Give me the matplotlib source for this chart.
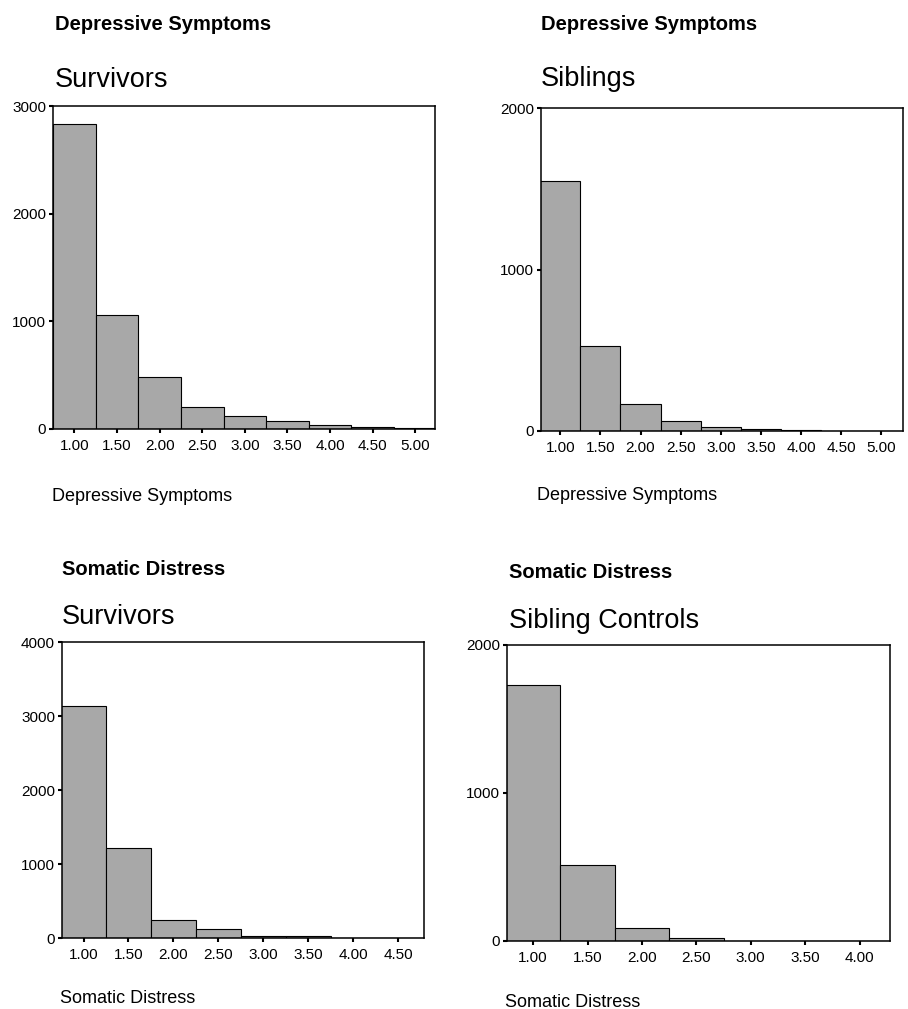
## four SPSS-style histograms (depressive symptoms / somatic distress)

import matplotlib
matplotlib.use('Agg')
import matplotlib.pyplot as plt

W, H = 908, 1009
FONT = ['Liberation Sans', 'DejaVu Sans']
BAR_COLOR = '#a8a8a8'

plt.rcParams['font.family'] = FONT

# bin centres and counts
dep_centers = [1.00, 1.50, 2.00, 2.50, 3.00, 3.50, 4.00, 4.50, 5.00]
dep_survivors = [2833, 1058, 479, 207, 124, 74, 37, 22, 8]
dep_siblings = [1551, 527, 165, 62, 25, 10, 5, 3, 1]

som_surv_centers = [1.00, 1.50, 2.00, 2.50, 3.00, 3.50, 4.00, 4.50]
som_survivors = [3135, 1221, 239, 126, 27, 22, 3, 1]

som_sib_centers = [1.00, 1.50, 2.00, 2.50, 3.00, 3.50, 4.00]
som_siblings = [1731, 516, 90, 20, 3, 1, 1]

dep_ticks = ['1.00', '1.50', '2.00', '2.50', '3.00', '3.50', '4.00', '4.50', '5.00']
som_surv_ticks = ['1.00', '1.50', '2.00', '2.50', '3.00', '3.50', '4.00', '4.50']
som_sib_ticks = ['1.00', '1.50', '2.00', '2.50', '3.00', '3.50', '4.00']

fig = plt.figure(figsize=(W / 100, H / 100), dpi=100)


# left, right, top, bottom given in pixels
def _add_axes(left, right, top, bottom):
	return fig.add_axes([left / W, 1 - bottom / H, (right - left) / W, (bottom - top) / H])


def _text(x, y, s, size, weight='normal'):
	fig.text(x / W, 1 - y / H, s, fontsize=size, fontweight=weight, va='baseline', ha='left')


def _histogram(ax, centers, counts, ticklabels, xlim, ymax):
	ax.bar(centers, counts, width=0.5, color=BAR_COLOR, edgecolor='black', linewidth=0.8)
	ax.set_xlim(xlim)
	ax.set_ylim(0, ymax)
	ax.set_yticks(list(range(0, ymax + 1, 1000)))
	ax.set_xticks(centers)
	ax.set_xticklabels(ticklabels)
	for s in ax.spines.values():
		s.set_linewidth(1.1)
	ax.tick_params(axis='both', direction='out', length=3, width=1.5, labelsize=11, pad=4)
	ax.tick_params(axis='y', pad=2)


# panel 1: depressive symptoms, survivors
ax1 = _add_axes(53, 435, 106, 429)
_histogram(ax1, dep_centers, dep_survivors, dep_ticks, (0.75, 5.23), 3000)
_text(55, 30, 'Depressive Symptoms', 14.5, 'bold')
_text(55, 87, 'Survivors', 19.5)
_text(52, 501, 'Depressive Symptoms', 13)

# panel 2: depressive symptoms, siblings
ax2 = _add_axes(541, 903, 108, 431)
_histogram(ax2, dep_centers, dep_siblings, dep_ticks, (0.76, 5.27), 2000)
_text(541, 30, 'Depressive Symptoms', 14.5, 'bold')
_text(541, 86, 'Siblings', 19.5)
_text(537, 500, 'Depressive Symptoms', 13)

# panel 3: somatic distress, survivors
ax3 = _add_axes(62, 424, 642, 938)
_histogram(ax3, som_surv_centers, som_survivors, som_surv_ticks, (0.76, 4.79), 4000)
_text(62, 575, 'Somatic Distress', 14.5, 'bold')
_text(62, 624, 'Survivors', 19.5)
_text(60, 1003, 'Somatic Distress', 13)

# panel 4: somatic distress, sibling controls
ax4 = _add_axes(507, 890, 645, 941)
_histogram(ax4, som_sib_centers, som_siblings, som_sib_ticks, (0.76, 4.28), 2000)
_text(509, 578, 'Somatic Distress', 14.5, 'bold')
_text(509, 628, 'Sibling Controls', 19.5)
_text(505, 1007, 'Somatic Distress', 13)

fig.savefig('out.png', dpi=100)
